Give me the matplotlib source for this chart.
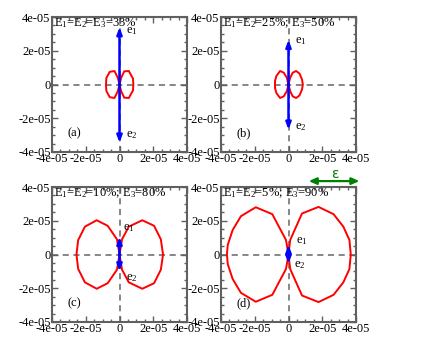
import matplotlib
matplotlib.use("Agg")
import matplotlib.pyplot as plt
from matplotlib.ticker import MultipleLocator, FixedLocator

plt.rcParams['font.family'] = ['Liberation Serif', 'DejaVu Serif']
plt.rcParams['mathtext.fontset'] = 'custom'
plt.rcParams['mathtext.rm'] = 'Liberation Serif'
plt.rcParams['mathtext.it'] = 'Liberation Serif:italic'

S = 1e-5
titles = ["E$_1$=E$_2$=E$_3$=33%", "E$_1$=E$_2$=25%; E$_3$=50%",
          "E$_1$=E$_2$=10%; E$_3$=80%", "E$_1$=E$_2$=5%; E$_3$=90%"]
panel_labels = ["(a)", "(b)", "(c)", "(d)"]

# right and left lobes (units of 1e-5)
right_x = [
    [0, 0.1, 0.28, 0.55, 0.8, 0.82, 0.8, 0.55, 0.28, 0.1, 0],
    [0, 0.1, 0.25, 0.45, 0.65, 0.8, 0.85, 0.8, 0.65, 0.45, 0.25, 0.1, 0],
    [0, 0.15, 0.55, 1.35, 2.05, 2.45, 2.58, 2.45, 2.05, 1.35, 0.55, 0.15, 0],
    [0, 0.1, 0.8, 1.78, 2.67, 3.25, 3.61, 3.69, 3.61, 3.25, 2.67, 1.78, 0.8, 0.1, 0],
]
right_y = [
    [0, 0.4, 0.78, 0.8, 0.35, 0, -0.35, -0.8, -0.78, -0.4, 0],
    [0, 0.4, 0.7, 0.8, 0.65, 0.3, 0, -0.3, -0.65, -0.8, -0.7, -0.4, 0],
    [0, 0.9, 1.65, 2.03, 1.7, 0.9, 0, -0.9, -1.7, -2.03, -1.65, -0.9, 0],
    [0, 0.86, 2.43, 2.82, 2.39, 1.65, 0.86, 0, -0.86, -1.65, -2.39, -2.82, -2.43, -0.86, 0],
]
left_x = [
    [0, -0.1, -0.3, -0.58, -0.78, -0.8, -0.78, -0.58, -0.3, -0.1, 0],
    [0, -0.1, -0.28, -0.5, -0.72, -0.8, -0.8, -0.72, -0.5, -0.28, -0.1, 0],
    [0, -0.15, -0.7, -1.35, -2.05, -2.45, -2.55, -2.45, -2.05, -1.35, -0.7, -0.15, 0],
    [0, -0.15, -0.96, -1.94, -2.82, -3.31, -3.6, -3.65, -3.6, -3.31, -2.82, -1.94, -0.96, -0.15, 0],
]
left_y = [
    [0, 0.4, 0.8, 0.75, 0.38, 0, -0.38, -0.75, -0.8, -0.4, 0],
    [0, 0.4, 0.7, 0.8, 0.5, 0.2, -0.2, -0.5, -0.8, -0.7, -0.4, 0],
    [0, 0.9, 1.7, 2.03, 1.65, 0.85, 0, -0.85, -1.65, -2.03, -1.7, -0.9, 0],
    [0, 0.86, 2.39, 2.8, 2.27, 1.45, 0.57, 0, -0.57, -1.45, -2.27, -2.8, -2.39, -0.86, 0],
]
# arrow lengths e1 (up) and e2 (down)
e1_len = [3.4, 2.65, 1.05, 0.58]
e2_len = [3.45, 2.68, 1.0, 0.55]
e1_lab = [(0.4, 3.15), (0.4, 2.6), (0.2, 1.55), (0.45, 0.8)]
e2_lab = [(0.4, -3.0), (0.4, -2.5), (0.4, -1.4), (0.35, -0.65)]
tick_labels = ['-4e-05', '-2e-05', '0', '2e-05', '4e-05']

fig = plt.figure(figsize=(4.4, 3.4), dpi=100)
W, H = 440, 340
boxes = [(52, 17), (221, 17), (52, 187), (221, 187)]
size = 135
spine_c = '#606060'
axes = []
for i, (x0, y0) in enumerate(boxes):
    ax = fig.add_axes([x0 / W, 1 - (y0 + size) / H, size / W, size / H])
    axes.append(ax)
    ax.set_xlim(-4 * S, 4 * S)
    ax.set_ylim(-4 * S, 4 * S)
    ax.axhline(0, color='#666666', ls=(0, (4, 3)), lw=1.1, zorder=1)
    ax.axvline(0, color='#666666', ls=(0, (4, 3)), lw=1.1, zorder=1)
    ax.plot([v * S for v in right_x[i]], [v * S for v in right_y[i]], color='#ff0000', lw=1.4, zorder=3)
    ax.plot([v * S for v in left_x[i]], [v * S for v in left_y[i]], color='#ff0000', lw=1.4, zorder=3)
    for L in (e1_len[i], -e2_len[i]):
        ax.annotate('', xy=(0, L * S), xytext=(0, 0),
                    arrowprops=dict(arrowstyle='-|>,head_length=0.4,head_width=0.15',
                                    color='#0000ff', lw=1.8, shrinkA=0, shrinkB=0), zorder=4)
    ax.text(e1_lab[i][0] * S, e1_lab[i][1] * S, 'e$_1$', fontsize=9, ha='left', va='center')
    ax.text(e2_lab[i][0] * S, e2_lab[i][1] * S, 'e$_2$', fontsize=9, ha='left', va='center')
    ax.text(-2.65 * S, -2.9 * S, panel_labels[i], fontsize=9, ha='center', va='center')
    ax.text(-3.9 * S, 4.05 * S, titles[i], fontsize=9, ha='left', va='top')
    ticks = [-4 * S, -2 * S, 0, 2 * S, 4 * S]
    ax.xaxis.set_major_locator(FixedLocator(ticks))
    ax.yaxis.set_major_locator(FixedLocator(ticks))
    ax.xaxis.set_minor_locator(MultipleLocator(0.5 * S))
    ax.yaxis.set_minor_locator(MultipleLocator(0.5 * S))
    ax.set_xticklabels(tick_labels, fontsize=9)
    ax.set_yticklabels(tick_labels, fontsize=9)
    ax.tick_params(which='both', direction='in', top=True, right=True, color=spine_c, width=1.0, pad=1)
    ax.tick_params(which='major', length=4.5)
    ax.tick_params(which='minor', length=2.5)
    for sp in ax.spines.values():
        sp.set_color(spine_c)
        sp.set_linewidth(1.5)

axd = axes[3]
axd.annotate('', xy=(1.2 * S, 4.35 * S), xytext=(4.2 * S, 4.35 * S), xycoords='data',
             arrowprops=dict(arrowstyle='<|-|>,head_length=0.45,head_width=0.2', color='#008000',
                             lw=1.6, shrinkA=0, shrinkB=0), annotation_clip=False)
axd.text(2.75 * S, 4.8 * S, 'ε', color='#008000', fontsize=10, ha='center', va='center',
         family=['DejaVu Sans'], clip_on=False)

fig.savefig('out.png', dpi=100)
